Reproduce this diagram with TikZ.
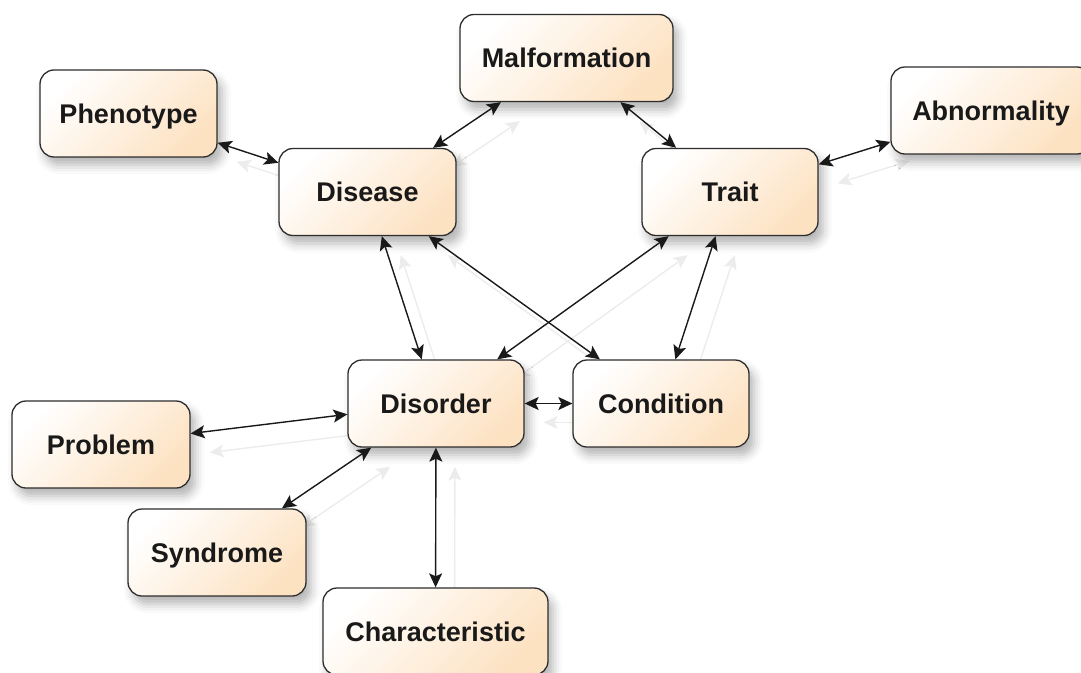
\documentclass[tikz,border=0pt]{standalone}
\usepackage{fontspec}
\setmainfont{Liberation Sans}
\usetikzlibrary{arrows.meta,shadows.blur,backgrounds}
\definecolor{peach}{HTML}{FDE2C2}
\definecolor{bordergray}{HTML}{2E2E2E}
\definecolor{ghostgray}{HTML}{ECECEC}
\tikzset{
  box/.style={draw=bordergray, line width=1.3pt, rounded corners=14pt,
    top color=white, bottom color=peach, shading angle=45,
    minimum height=87pt, text height=19.8pt, text depth=0pt, inner sep=0pt,
    font=\fontsize{27pt}{30pt}\selectfont\bfseries, text=black!90,
    blur shadow={shadow xshift=5pt, shadow yshift=-8pt, shadow blur radius=9pt, shadow opacity=30}},
  tip/.tip={Stealth[length=14pt,width=13pt,inset=3pt]},
  link/.style={line width=1.4pt, draw=black!90, tip-tip},
  ghost/.style={line width=1.4pt, draw=ghostgray, tip-tip, transform canvas={shift={(19pt,-19pt)}}},
}
\begin{document}
\begin{tikzpicture}[x=1pt,y=-1pt]
\useasboundingbox (0,0) rectangle (1081,672);
\clip (0,0) rectangle (1081,672);
\node[box, minimum width=213pt] (malf) at (566.5,58) {Malformation};
\node[box, minimum width=177pt] (phen) at (128.5,113.5) {Phenotype};
\node[box, minimum width=177pt] (dise) at (367.5,192) {Disease};
\node[box, minimum width=176pt] (trait) at (730,192) {Trait};
\node[box, minimum width=200pt] (abn) at (991,110.5) {Abnormality};
\node[box, minimum width=176pt] (disor) at (436,403.5) {Disorder};
\node[box, minimum width=176pt] (cond) at (661,403.5) {Condition};
\node[box, minimum width=178pt] (prob) at (101,444.5) {Problem};
\node[box, minimum width=178pt] (synd) at (217,552.5) {Syndrome};
\node[box, minimum width=225pt] (char) at (435.5,631.5) {Characteristic};
\begin{pgfonlayer}{background}
\foreach \a/\b in {phen/dise, dise/malf, malf/trait, trait/abn, dise/disor, dise/cond, trait/disor, trait/cond, disor/cond, prob/disor, synd/disor, char/disor}
  \draw[ghost] (\a) -- (\b);
\end{pgfonlayer}
\foreach \a/\b in {phen/dise, dise/malf, malf/trait, trait/abn, dise/disor, dise/cond, trait/disor, trait/cond, disor/cond, prob/disor, synd/disor, char/disor}
  \draw[link] (\a) -- (\b);
\end{tikzpicture}
\end{document}
